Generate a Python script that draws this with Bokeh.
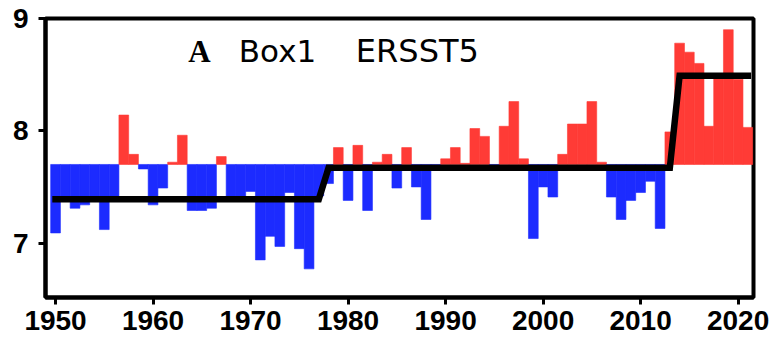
from bokeh.plotting import figure
from bokeh.models import ColumnDataSource, Range1d, FixedTicker, Label
from bokeh.embed import file_html
from bokeh.resources import INLINE

# Annual SST for Box1 (ERSST5), degC
years = list(range(1950, 2022))
sst = [
    7.09, 7.40, 7.31, 7.34, 7.39, 7.12, 7.42, 8.14, 7.79, 7.66,   # 1950-1959
    7.34, 7.49, 7.72, 7.96, 7.29, 7.29, 7.31, 7.77, 7.40, 7.40,   # 1960-1969
    7.46, 6.85, 7.06, 6.97, 7.45, 6.95, 6.77, 7.42, 7.53, 7.85,   # 1970-1979
    7.38, 7.87, 7.29, 7.72, 7.79, 7.49, 7.85, 7.50, 7.21, 7.69,   # 1980-1989
    7.75, 7.85, 7.71, 8.02, 7.95, 7.69, 8.04, 8.26, 7.75, 7.04,   # 1990-1999
    7.50, 7.41, 7.79, 8.06, 8.06, 8.26, 7.72, 7.41, 7.21, 7.38,   # 2000-2009
    7.45, 7.55, 7.13, 7.99, 8.78, 8.70, 8.60, 8.04, 8.48, 8.90,   # 2010-2019
    8.46, 8.03,                                                   # 2020-2021
]
baseline = 7.70

# Regime means (step line)
step_years = [1950, 1977, 1978, 2013, 2014, 2021]
step_vals = [7.39, 7.39, 7.67, 7.67, 8.49, 8.49]

x_ticks = [1950, 1960, 1970, 1980, 1990, 2000, 2010, 2020]
y_ticks = [7, 8, 9]

RED = "#ff3b36"
BLUE = "#1c2bff"
colors = [RED if v >= baseline else BLUE for v in sst]

src = ColumnDataSource(dict(year=years, sst=sst, color=colors))

p = figure(
    width=773, height=341,
    x_range=Range1d(1948.97, 2021.58),
    y_range=Range1d(6.515, 9.0),
    output_backend="svg", toolbar_location=None,
    min_border_left=45, min_border_right=20,
    min_border_top=18, min_border_bottom=44,
)
p.background_fill_color = "white"
p.border_fill_color = "white"
p.grid.visible = False
p.outline_line_color = "black"
p.outline_line_width = 4

p.vbar(x="year", width=1.0, bottom=baseline, top="sst", source=src,
       fill_color="color", line_color="color", line_width=0.6)

p.line(step_years, step_vals, line_color="black", line_width=6.5,
       line_cap="square", line_join="miter")

for ax in (p.xaxis[0], p.yaxis[0]):
    ax.axis_line_width = 4
    ax.axis_line_color = "black"
    ax.major_tick_line_width = 3
    ax.major_tick_in = 0
    ax.major_tick_out = 7
    ax.minor_tick_line_color = None
    ax.major_label_text_font = "Liberation Sans"
    ax.major_label_text_font_style = "bold"
    ax.major_label_text_font_size = "28px"
    ax.major_label_text_color = "black"

p.xaxis.ticker = FixedTicker(ticks=x_ticks)
p.yaxis.ticker = FixedTicker(ticks=y_ticks)
p.xaxis.major_label_standoff = 6
p.yaxis.major_label_standoff = 10

title_y = 8.71
p.add_layout(Label(x=1963.6, y=title_y, text="A", text_font="Liberation Serif",
                   text_font_style="bold", text_font_size="31px",
                   text_color="black", text_baseline="alphabetic"))
p.add_layout(Label(x=1968.8, y=title_y, text="Box1", text_font="DejaVu Sans",
                   text_font_size="31px", text_color="black",
                   text_baseline="alphabetic"))
p.add_layout(Label(x=1980.8, y=title_y, text="ERSST5", text_font="DejaVu Sans",
                   text_font_size="32px", text_color="black",
                   text_baseline="alphabetic"))

open("out.html", "w").write(file_html(p, INLINE))
